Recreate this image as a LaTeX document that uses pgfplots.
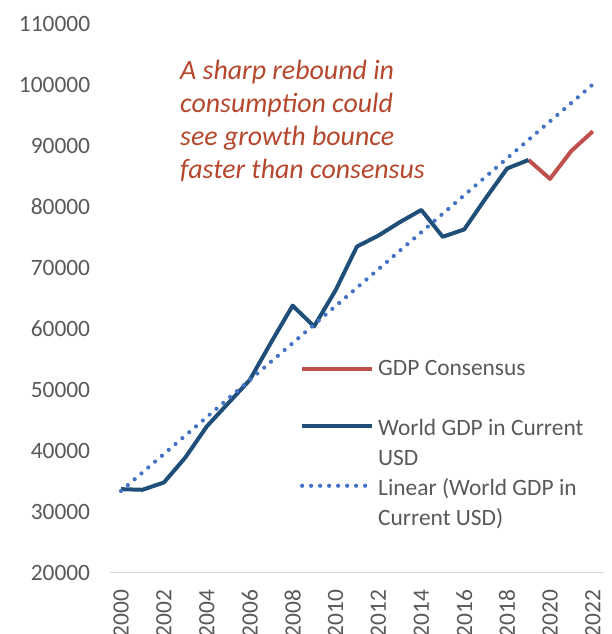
\documentclass[border=0pt]{standalone}
\usepackage{pgfplots}
\pgfplotsset{compat=1.18}
\usepackage{fontspec}
\setmainfont{Carlito}
\definecolor{gdpblue}{HTML}{1F4E79}
\definecolor{consred}{HTML}{C0504D}
\definecolor{trendblue}{HTML}{4472C4}
\definecolor{annot}{HTML}{B5472D}
\definecolor{ticktext}{HTML}{595959}
\definecolor{axisgray}{HTML}{D9D9D9}
\begin{document}
\begin{tikzpicture}
\path[use as bounding box] (0bp,0bp) rectangle (612bp,634bp);
\begin{axis}[
  at={(110.3bp,61.3bp)}, anchor=south west,
  scale only axis, width=493.3bp, height=548.7bp,
  xmin=1999.5, xmax=2022.5, ymin=20000, ymax=110000,
  clip=false,
  axis x line*=bottom, axis y line*=left,
  y axis line style={draw=none},
  x axis line style={draw=axisgray, line width=1.3bp},
  tick align=outside,
  xtick={2000,2002,...,2022},
  xticklabels={2000,2002,2004,2006,2008,2010,2012,2014,2016,2018,2020,2022},
  ytick={20000,30000,...,110000},
  yticklabels={20000,30000,40000,50000,60000,70000,80000,90000,100000,110000},
  major tick length=0pt,
  ytick style={draw=none},
  xtick style={draw=none},
  extra x ticks={1999.5,2001.5,...,2021.5},
  extra x tick labels={},
  extra x tick style={major tick length=8bp, tick style={draw=axisgray, line width=1.3bp}},
  scaled y ticks=false, scaled x ticks=false,
  tick label style={text=ticktext, font=\fontsize{23.5}{28}\selectfont},
  xticklabel style={rotate=90, anchor=east, inner sep=0pt},
  xticklabel shift=17bp,
  yticklabel style={anchor=east, inner sep=0pt},
  yticklabel shift=20bp,
  legend style={at={(0.3846,0.3904)}, anchor=north west, draw=none, fill=none,
    inner sep=0pt, outer sep=0pt, row sep=33.5bp, column sep=2bp,
    font=\fontsize{23.5}{30}\selectfont, text=ticktext},
  legend cell align=left,
  legend image code/.code={\draw[#1] (0bp,0bp) -- (70bp,0bp);},
]
\addplot[consred, line width=4bp, line join=round] coordinates {
(2019,87700) (2020,84600) (2021,89200) (2022,92400)};
\addlegendentry{GDP Consensus}
\addplot[gdpblue, line width=4bp, line join=round] coordinates {
(2000,33700) (2001,33600) (2002,34800) (2003,38900) (2004,44000)
(2005,47800) (2006,51600) (2007,57800) (2008,63800) (2009,60400)
(2010,66300) (2011,73500) (2012,75300) (2013,77500) (2014,79500)
(2015,75100) (2016,76300) (2017,81400) (2018,86300) (2019,87700)};
\addlegendentry{\parbox[t]{230bp}{\strut World GDP in Current\\\strut USD}}
\addplot[trendblue, line width=4.2bp, line cap=round, dash pattern=on 0bp off 9bp] coordinates {
(2000,33400) (2022,100100)};
\addlegendentry{\parbox[t]{230bp}{\strut Linear (World GDP in\\\strut Current USD)}}
\node[anchor=base west, inner sep=0pt, align=left, text=annot,
  font=\fontsize{28}{33}\selectfont\itshape]
  at (axis cs:2002.75,84700) {A sharp rebound in\\consumption could\\see growth bounce\\faster than consensus};
\end{axis}
\end{tikzpicture}
\end{document}
